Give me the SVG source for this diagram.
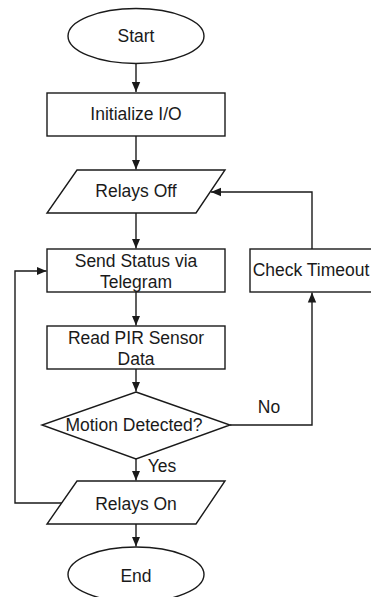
<svg xmlns="http://www.w3.org/2000/svg" width="371" height="597" viewBox="0 0 371 597">
<defs>
<marker id="ah" markerUnits="userSpaceOnUse" markerWidth="10" markerHeight="10" refX="10" refY="5" orient="auto">
<path d="M0,0.8 L10,5 L0,9.2 Z" fill="#1a1a1a"/>
</marker>
<style>
.s{fill:#fff;stroke:#1a1a1a;stroke-width:1.4}
.c{fill:none;stroke:#1a1a1a;stroke-width:1.4}
text{font-family:"Liberation Sans",Arial,sans-serif;font-size:17.5px;fill:#1a1a1a;text-anchor:middle}
</style>
</defs>
<rect width="371" height="597" fill="#fff"/>
<g id="connectors">
<path class="c" d="M136,64 V92" marker-end="url(#ah)"/>
<path class="c" d="M136,136 V169.5" marker-end="url(#ah)"/>
<path class="c" d="M136,213 V248.5" marker-end="url(#ah)"/>
<path class="c" d="M136,292 V325.5" marker-end="url(#ah)"/>
<path class="c" d="M136,369 V391.5" marker-end="url(#ah)"/>
<path class="c" d="M136,459 V480.5" marker-end="url(#ah)"/>
<path class="c" d="M136,524 V546.5" marker-end="url(#ah)"/>
<path class="c" d="M230,425 H312 V292.5" marker-end="url(#ah)"/>
<path class="c" d="M312,249 V192 H211" marker-end="url(#ah)"/>
<path class="c" d="M62,503 H15 V271 H46.5" marker-end="url(#ah)"/>
<text x="269" y="413">No</text>
<text x="162" y="472">Yes</text>
</g>
<g id="start">
<ellipse class="s" cx="136" cy="36" rx="68" ry="27.5"/>
<text x="136" y="42">Start</text>
</g>
<g id="init">
<rect class="s" x="47" y="93" width="178" height="43"/>
<text x="136" y="120">Initialize I/O</text>
</g>
<g id="relays-off">
<polygon class="s" points="77,170 225,170 196,213 47,213"/>
<text x="136" y="197">Relays Off</text>
</g>
<g id="send-status">
<rect class="s" x="47" y="249" width="178" height="43"/>
<text x="136" y="266.5">Send Status via</text>
<text x="136" y="287.5">Telegram</text>
</g>
<g id="check-timeout">
<rect class="s" x="250" y="249" width="124" height="43"/>
<text x="311" y="276">Check Timeout</text>
</g>
<g id="read-pir">
<rect class="s" x="47" y="326" width="178" height="43"/>
<text x="136" y="343.5">Read PIR Sensor</text>
<text x="136" y="365">Data</text>
</g>
<g id="motion">
<polygon class="s" points="136,392 230,425 136,459 42,425"/>
<text x="134" y="431">Motion Detected?</text>
</g>
<g id="relays-on">
<polygon class="s" points="77,481 225,481 196,524 47,524"/>
<text x="136" y="509.5">Relays On</text>
</g>
<g id="end">
<ellipse class="s" cx="136" cy="574.5" rx="68" ry="27.5"/>
<text x="136" y="582">End</text>
</g>
</svg>
